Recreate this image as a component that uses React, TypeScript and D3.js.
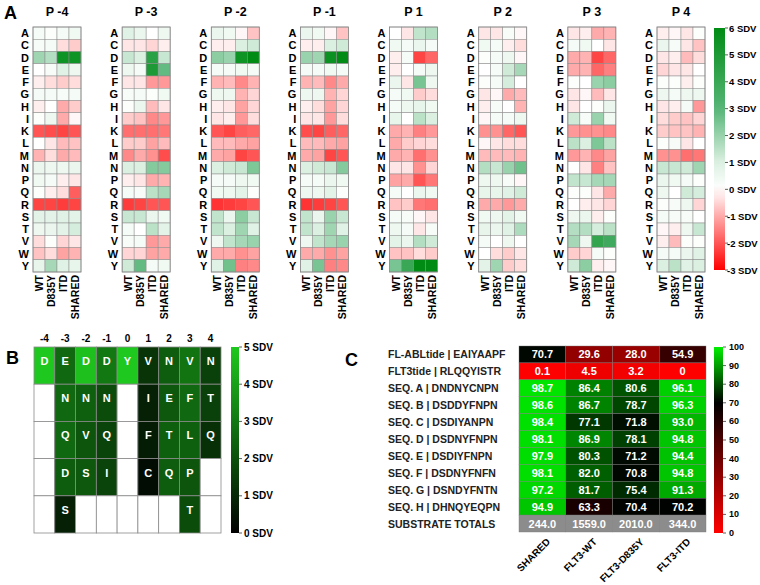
import React from "react";
import * as d3 from "d3";

const ROWS = ["A","C","D","E","F","G","H","I","K","L","M","N","P","Q","R","S","T","V","W","Y"];
const POSITIONS = ["P -4","P -3","P -2","P -1","P 1","P 2","P 3","P 4"];
const KINASES = ["WT","D835Y","ITD","SHARED"];
const SDV_TICKS = [6,5,4,3,2,1,0,-1,-2,-3];

// rows A..Y, columns WT, D835Y, ITD, SHARED (SDV)
const pM4 = [[0.3,0.1,0.3,0.4],[0.2,0.3,-0.4,-0.6],[1.9,1.6,5.5,5.5],[0.0,0.2,0.9,0.5],[-0.2,-0.4,-0.6,-0.4],[0.3,0.3,0.2,0.3],[-0.2,0.0,-1.0,-0.6],[0.1,0.5,-1.0,-0.1],[-2.0,-2.1,-2.2,-2.0],[0.0,-0.3,-0.8,-0.7],[-0.9,-0.4,-1.0,-0.8],[0.6,0.5,0.5,0.6],[0.4,0.3,-0.2,-0.3],[0.1,-0.2,-0.4,-1.9],[-2.2,-2.2,-2.3,-2.2],[0.8,0.8,0.9,0.8],[0.5,0.6,0.8,1.1],[-0.4,0.1,-0.5,-0.3],[-0.7,-0.4,-1.1,-0.9],[0.7,1.8,0.9,0.7]];
const pM3 = [[0.9,0.6,0.0,0.5],[-0.3,-0.3,-0.5,-0.2],[1.3,1.0,4.5,1.3],[0.5,0.3,5.0,2.8],[-0.3,-0.3,-1.2,-1.2],[0.2,0.3,0.1,0.4],[0.1,0.6,-0.8,-0.3],[-0.6,-0.7,-1.4,-1.2],[-1.7,-1.7,-1.7,-1.6],[-0.6,-0.6,-1.1,-0.8],[-1.4,-1.0,-1.3,-2.1],[1.0,1.0,2.3,2.3],[-0.2,-0.3,-1.0,-0.9],[0.3,0.2,1.5,1.8],[-2.3,-2.2,-2.0,-2.0],[1.3,1.3,0.6,0.4],[0.3,0.0,1.5,0.8],[0.2,0.3,-1.2,-1.0],[-0.5,-0.5,-1.1,-1.0],[1.2,2.8,0.3,0.4]];
const pM2 = [[0.6,0.4,-0.1,-0.7],[-0.2,-0.2,1.0,1.2],[2.2,2.0,5.5,6.0],[0.3,0.3,0.4,0.3],[-0.9,-0.8,-1.4,-0.9],[0.5,0.5,-0.9,-0.5],[-0.2,-0.3,-1.1,-0.5],[-0.3,-0.2,-1.2,-0.4],[-2.0,-2.2,-1.9,-1.8],[-0.8,-0.8,-1.0,-1.1],[-1.0,-1.1,-2.2,-2.0],[1.0,1.2,1.3,2.4],[0.3,0.3,0.5,0.4],[0.4,0.5,0.8,0.1],[-2.4,-2.3,-2.2,-2.0],[1.4,0.6,2.2,1.3],[1.4,1.0,1.9,0.9],[0.5,1.4,1.8,2.0],[-1.0,-1.0,-1.3,-1.1],[0.9,2.6,-1.5,-1.4]];
const pM1 = [[0.6,0.4,-0.1,-0.7],[-0.2,-0.2,1.0,1.2],[2.0,1.9,5.6,6.0],[0.3,0.3,0.4,0.3],[-0.9,-0.8,-1.4,-1.0],[0.5,0.5,-0.9,-0.5],[-0.2,-0.4,-1.1,-0.5],[-0.3,-0.3,-1.2,-0.4],[-2.1,-2.2,-1.9,-1.8],[-0.8,-0.8,-1.0,-1.1],[-1.0,-1.1,-2.2,-2.0],[1.0,1.2,1.3,2.3],[0.3,0.3,0.6,0.4],[0.5,0.5,0.8,0.1],[-2.4,-2.3,-2.2,-2.0],[1.4,0.6,2.0,1.3],[1.4,1.0,1.9,0.9],[0.5,1.4,1.8,2.0],[-1.0,-1.0,-1.3,-1.1],[0.9,2.5,-1.5,-1.4]];
const p1 = [[0.0,-0.3,1.4,1.6],[0.4,0.3,0.6,0.3],[-0.2,0.3,-2.2,-1.8],[-0.2,0.0,0.3,0.5],[0.6,-0.3,2.5,0.5],[0.3,0.4,-0.6,-0.4],[0.3,0.5,0.7,0.4],[0.7,0.0,1.5,1.0],[-1.0,-0.9,-1.5,-1.2],[-1.0,-0.6,-0.5,-0.4],[-1.0,-0.9,-1.7,-1.3],[-0.3,-0.3,-1.3,-0.5],[-1.1,-1.0,-2.0,-1.6],[0.3,0.0,0.6,0.4],[-0.7,-0.6,-1.6,-1.7],[0.3,0.2,-0.1,-0.3],[0.5,0.3,-0.3,0.2],[0.8,0.6,1.6,1.2],[-0.7,-0.7,-0.4,-0.6],[2.5,4.0,6.0,6.0]];
const p2 = [[-0.3,-0.3,0.2,-0.1],[0.4,0.3,-0.2,-0.4],[0.1,0.3,0.5,-0.1],[0.0,0.3,1.2,1.8],[0.1,0.3,1.1,0.0],[-0.3,-0.1,-1.0,-0.8],[-0.2,0.2,0.0,-0.9],[-0.1,0.3,0.3,0.5],[-1.3,-1.3,-1.8,-2.0],[-0.1,-0.3,-0.4,-0.4],[-0.8,-0.8,-0.8,-0.9],[1.6,1.3,2.0,2.6],[0.5,0.5,0.2,-0.1],[0.7,0.7,0.9,1.2],[-1.0,-1.0,-1.2,-1.0],[0.4,0.5,0.8,0.4],[0.7,0.6,0.9,1.7],[0.3,0.0,0.5,0.0],[0.0,-0.4,-0.6,-0.3],[0.8,1.9,-0.6,-0.4]];
const p3 = [[-0.3,-0.2,-1.0,-0.9],[0.3,0.4,0.0,-0.3],[-1.0,-0.9,-2.2,-1.8],[-1.0,-0.9,-1.8,-1.5],[0.1,0.0,2.0,2.2],[-0.3,-0.1,-0.8,-0.3],[-0.3,0.0,0.1,0.6],[1.2,0.2,2.0,0.4],[-1.2,-1.3,-1.3,-1.4],[1.5,1.0,2.4,1.5],[-1.2,-0.9,-1.4,-1.1],[0.0,-0.3,-1.5,-0.7],[1.4,1.3,1.8,1.8],[0.1,0.1,-0.3,-1.0],[0.0,-0.2,-0.3,-0.5],[0.5,0.6,-0.2,0.1],[1.6,1.6,1.1,1.5],[1.8,0.5,4.2,3.8],[-0.6,-0.5,0.3,0.1],[1.2,2.2,-0.2,-0.1]];
const p4 = [[-0.2,-0.1,-0.3,0.1],[0.6,0.2,-0.3,-0.7],[-0.3,-0.2,-0.8,-0.4],[-0.5,-0.3,-0.3,0.0],[0.1,0.1,-0.2,0.1],[0.5,0.3,0.5,0.5],[-0.3,-0.2,0.3,-1.2],[-0.4,-0.6,-0.7,-0.5],[-0.6,-0.7,-0.7,-0.9],[0.1,0.2,-0.3,0.0],[-1.3,-1.3,-1.7,-1.6],[1.3,1.3,1.2,1.9],[0.6,0.4,0.3,0.1],[0.5,0.0,1.2,1.1],[0.1,0.2,0.5,-0.5],[0.3,0.2,0.2,0.0],[-0.1,-0.2,0.5,1.3],[-0.2,-0.8,0.1,0.1],[0.3,0.3,0.6,0.9],[1.0,1.5,0.9,1.0]];
const PANEL_DATA = [pM4, pM3, pM2, pM1, p1, p2, p3, p4];

// Panel B
const B_POS = ["-4","-3","-2","-1","0","1","2","3","4"];
const B_LETTERS = [
  ["D","E","D","D","Y","V","N","V","N"],
  ["","N","N","N","","I","E","F","T"],
  ["","Q","V","Q","","F","T","L","Q"],
  ["","D","S","I","","C","Q","P",""],
  ["","S","","","","","","T",""],
];
const B_VALUES = [
  [5.0,2.6,4.8,3.0,5.0,1.3,2.3,2.9,1.6],
  [null,2.6,2.4,1.9,null,0.8,2.2,2.6,1.6],
  [null,2.6,2.1,1.7,null,0.7,2.4,2.4,1.2],
  [null,2.3,2.2,1.7,null,0.3,2.3,2.1,null],
  [null,0.8,null,null,null,null,null,1.9,null],
];
const B_TICKS = [5,4,3,2,1,0];

// Panel C
const C_ROWS = ["FL-ABLtide | EAIYAAPF","FLT3tide | RLQQYISTR","SEQ. A | DNDNYCNPN","SEQ. B | DSDDYFNPN","SEQ. C | DSDIYANPN","SEQ. D | DSDNYFNPN","SEQ. E | DSDIYFNPN","SEQ. F | DSDNYFNFN","SEQ. G | DSNDYFNTN","SEQ. H | DHNQYEQPN","SUBSTRATE TOTALS"];
const C_COLS = ["SHARED","FLT3-WT","FLT3-D835Y","FLT3-ITD"];
const C_VALUES = [
  [70.7,29.6,28.0,54.9],
  [0.1,4.5,3.2,0],
  [98.7,86.4,80.6,96.1],
  [98.6,86.7,78.7,96.3],
  [98.4,77.1,71.8,93.0],
  [98.1,86.9,78.1,94.8],
  [97.9,80.3,71.2,94.4],
  [98.1,82.0,70.8,94.8],
  [97.2,81.7,75.4,91.3],
  [94.9,63.3,70.4,70.2],
];
const C_TOTALS = [244.0,1559.0,2010.0,344.0];
const C_TICKS = [100,90,80,70,60,50,40,30,20,10,0];

const FONT = "'Liberation Sans', Arial, sans-serif";
const GRID = "#8a8a8a";

export default function App() {
  const colA = d3.scaleLinear<string>().domain([-3, 0, 1, 3, 6]).range(["#ff0000", "#ffffff", "#dcf0e2", "#56b577", "#008c14"]).clamp(true);
  const colB = d3.scaleLinear<string>().domain([0, 5]).range(["#000000", "#1ec81e"]).clamp(true);
  const colC = d3.scaleLinear<string>().domain([0, 70, 100]).range(["#ff0000", "#000000", "#00ee00"]).clamp(true);

  // Panel A geometry
  const panelX = d3.scaleLinear().domain([0, 7]).range([33, 657]);
  const gridW = 48;
  const yA = d3.scaleBand().domain(ROWS).range([27, 272]);
  const xA = d3.scaleBand().domain(KINASES).range([0, gridW]);
  const cbA = d3.scaleLinear().domain([-3, 6]).range([270, 28]);

  // Panel B geometry
  const xB = d3.scaleBand().domain(B_POS).range([34, 221]);
  const yB = d3.scaleBand().domain(d3.range(5).map(String)).range([347, 533]);
  const cbB = d3.scaleLinear().domain([0, 5]).range([533, 347]);

  // Panel C geometry
  const xC = d3.scaleBand().domain(C_COLS).range([519, 706]);
  const yC = d3.scaleBand().domain(C_ROWS).range([346, 532]);
  const cbC = d3.scaleLinear().domain([0, 100]).range([533, 347]);

  const stops = (scale: (v: number) => string, dom: [number, number]) =>
    d3.range(0, 1.0001, 0.05).map((t) => (
      <stop key={t} offset={`${t * 100}%`} stopColor={scale(dom[1] - t * (dom[1] - dom[0]))} />
    ));

  return (
    <svg width={760} height={585} style={{ position: "absolute", left: 0, top: 0, background: "#fff" }} fontFamily={FONT}>
      <defs>
        <linearGradient id="gA" x1="0" y1="0" x2="0" y2="1">{stops(colA, [-3, 6])}</linearGradient>
        <linearGradient id="gB" x1="0" y1="0" x2="0" y2="1">{stops(colB, [0, 5])}</linearGradient>
        <linearGradient id="gC" x1="0" y1="0" x2="0" y2="1">{stops(colC, [0, 100])}</linearGradient>
      </defs>

      {/* Panel labels */}
      <text x={4} y={19} fontSize={18} fontWeight="bold">A</text>
      <text x={6} y={364} fontSize={18} fontWeight="bold">B</text>
      <text x={345} y={366} fontSize={18} fontWeight="bold">C</text>

      {/* Panel A */}
      {PANEL_DATA.map((data, pi) => {
        const x0 = panelX(pi);
        return (
          <g key={pi} transform={`translate(${x0},0)`}>
            <text x={gridW / 2} y={16} textAnchor="middle" fontSize={12.5} fontWeight="bold">{POSITIONS[pi]}</text>
            {ROWS.map((r, ri) => (
              <g key={r}>
                <text x={-4} y={(yA(r) as number) + yA.bandwidth() / 2} textAnchor="end" dominantBaseline="central" fontSize={11} fontWeight="bold">{r}</text>
                {KINASES.map((k, ki) => (
                  <rect key={k} x={xA(k)} y={yA(r)} width={xA.bandwidth()} height={yA.bandwidth()} fill={colA(data[ri][ki])} stroke={GRID} strokeWidth={0.5} />
                ))}
              </g>
            ))}
            <rect x={0} y={27} width={gridW} height={245} fill="none" stroke={GRID} strokeWidth={0.8} />
            {KINASES.map((k) => (
              <text key={k} transform={`translate(${(xA(k) as number) + xA.bandwidth() / 2},275) rotate(-90)`} textAnchor="end" dominantBaseline="central" fontSize={10.5} fontWeight="bold">{k}</text>
            ))}
          </g>
        );
      })}
      {/* Colorbar A */}
      <rect x={714} y={28} width={11} height={242} fill="url(#gA)" />
      {SDV_TICKS.map((t) => (
        <g key={t}>
          <line x1={725} x2={728} y1={cbA(t)} y2={cbA(t)} stroke="#333" strokeWidth={0.8} />
          <text x={t < 0 ? 727 : 729} y={cbA(t)} dominantBaseline="central" fontSize={9.5} fontWeight="bold">{`${t} SDV`}</text>
        </g>
      ))}

      {/* Panel B */}
      {B_POS.map((p) => (
        <text key={p} x={(xB(p) as number) + xB.bandwidth() / 2} y={342} textAnchor="middle" fontSize={10} fontWeight="bold">{p}</text>
      ))}
      {B_VALUES.map((row, ri) => row.map((v, ci) => {
        const x = xB(B_POS[ci]) as number;
        const y = yB(String(ri)) as number;
        return (
          <g key={`${ri}-${ci}`}>
            <rect x={x} y={y} width={xB.bandwidth()} height={yB.bandwidth()} fill={v == null ? "#ffffff" : colB(v)} stroke={GRID} strokeWidth={0.8} />
            {B_LETTERS[ri][ci] && (
              <text x={x + xB.bandwidth() / 2} y={y + 14} textAnchor="middle" dominantBaseline="central" fontSize={11} fontWeight="bold" fill="#fff">{B_LETTERS[ri][ci]}</text>
            )}
          </g>
        );
      }))}
      <rect x={231} y={347} width={8} height={186} fill="url(#gB)" />
      {B_TICKS.map((t) => (
        <g key={t}>
          <line x1={239} x2={242} y1={cbB(t)} y2={cbB(t)} stroke="#333" strokeWidth={0.8} />
          <text x={244} y={cbB(t)} dominantBaseline="central" fontSize={10} fontWeight="bold">{`${t} SDV`}</text>
        </g>
      ))}

      {/* Panel C */}
      {C_ROWS.map((r, ri) => (
        <g key={r}>
          <text x={388} y={(yC(r) as number) + yC.bandwidth() / 2} dominantBaseline="central" fontSize={10.5} fontWeight="bold" fill="#222">{r}</text>
          {C_COLS.map((c, ci) => {
            const isTotal = ri === C_VALUES.length;
            const v = isTotal ? C_TOTALS[ci] : C_VALUES[ri][ci];
            const x = xC(c) as number;
            const y = yC(r) as number;
            const label = isTotal ? v.toFixed(1) : (v === 0 ? "0" : v.toFixed(1));
            return (
              <g key={c}>
                <rect x={x} y={y} width={xC.bandwidth()} height={yC.bandwidth()} fill={isTotal ? "#8c8c8c" : colC(v)} stroke="#777" strokeWidth={0.4} />
                <text x={x + xC.bandwidth() / 2} y={y + yC.bandwidth() / 2} textAnchor="middle" dominantBaseline="central" fontSize={11} fontWeight="bold" fill="#fff">{label}</text>
              </g>
            );
          })}
        </g>
      ))}
      {C_COLS.map((c) => (
        <text key={c} transform={`translate(${(xC(c) as number) + xC.bandwidth() / 2 + 6},540) rotate(-45)`} textAnchor="end" dominantBaseline="central" fontSize={10} fontWeight="bold">{c}</text>
      ))}
      <rect x={714} y={347} width={9} height={186} fill="url(#gC)" />
      {C_TICKS.map((t) => (
        <g key={t}>
          <line x1={723} x2={726} y1={cbC(t)} y2={cbC(t)} stroke="#333" strokeWidth={0.8} />
          <text x={729} y={cbC(t)} dominantBaseline="central" fontSize={9} fontWeight="bold">{t}</text>
        </g>
      ))}
    </svg>
  );
}
